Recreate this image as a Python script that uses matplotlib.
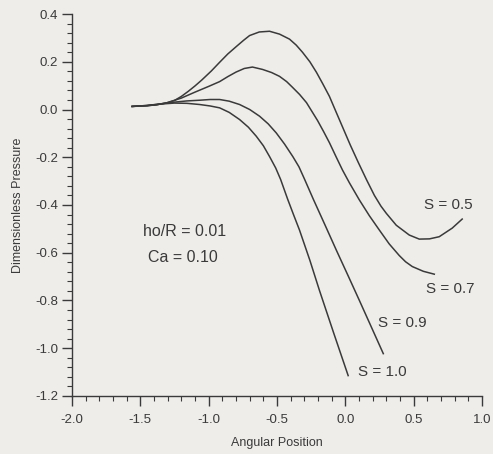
import matplotlib
matplotlib.use("Agg")
import matplotlib.pyplot as plt
from matplotlib.ticker import MultipleLocator

plt.rcParams['font.family'] = ['Liberation Sans', 'DejaVu Sans']

# curves (angular position, dimensionless pressure)
s05_x = [-1.56, -1.45, -1.38, -1.307, -1.25, -1.20, -1.15, -1.10, -1.05, -0.98, -0.92,
         -0.86, -0.796, -0.745, -0.701, -0.63, -0.555, -0.482, -0.409, -0.36, -0.314,
         -0.26, -0.212, -0.165, -0.117, -0.07, -0.022, 0.035, 0.095, 0.155, 0.212, 0.26,
         0.299, 0.372, 0.467, 0.54, 0.615, 0.686, 0.781, 0.854]
s05_y = [0.013, 0.016, 0.020, 0.028, 0.038, 0.055, 0.076, 0.099, 0.124, 0.162, 0.198,
         0.233, 0.265, 0.29, 0.31, 0.325, 0.328, 0.316, 0.295, 0.27, 0.240,
         0.20, 0.156, 0.107, 0.055, -0.008, -0.072, -0.148, -0.223, -0.295, -0.36, -0.405,
         -0.435, -0.485, -0.526, -0.543, -0.542, -0.533, -0.497, -0.459]

s07_x = [-1.56, -1.45, -1.38, -1.307, -1.20, -1.10, -1.00, -0.92, -0.86, -0.80, -0.74,
         -0.68, -0.606, -0.54, -0.482, -0.43, -0.387, -0.335, -0.285, -0.245, -0.204,
         -0.16, -0.117, -0.07, -0.022, 0.029, 0.102, 0.175, 0.248, 0.32, 0.394, 0.44,
         0.489, 0.57, 0.65]
s07_y = [0.013, 0.016, 0.020, 0.028, 0.048, 0.073, 0.097, 0.117, 0.138, 0.157, 0.172,
         0.178, 0.168, 0.155, 0.139, 0.117, 0.093, 0.063, 0.029, -0.008, -0.046,
         -0.092, -0.139, -0.196, -0.253, -0.307, -0.379, -0.445, -0.505, -0.563, -0.612, -0.638,
         -0.658, -0.678, -0.69]

s09_x = [-1.56, -1.45, -1.35, -1.25, -1.16, -1.066, -0.99, -0.92, -0.85, -0.774, -0.70,
         -0.628, -0.565, -0.506, -0.445, -0.385, -0.34, -0.299, -0.234, -0.15, -0.066,
         0.02, 0.102, 0.19, 0.277]
s09_y = [0.013, 0.017, 0.024, 0.031, 0.036, 0.039, 0.042, 0.042, 0.035, 0.021, 0.0,
         -0.028, -0.06, -0.098, -0.145, -0.197, -0.24, -0.292, -0.377, -0.483, -0.59,
         -0.697, -0.80, -0.912, -1.023]

s10_x = [-1.56, -1.45, -1.35, -1.25, -1.16, -1.066, -0.99, -0.92, -0.85, -0.774, -0.71,
         -0.652, -0.60, -0.555, -0.51, -0.474, -0.423, -0.38, -0.336, -0.26, -0.19,
         -0.085, 0.02]
s10_y = [0.013, 0.017, 0.023, 0.027, 0.026, 0.021, 0.015, 0.007, -0.012, -0.042, -0.074,
         -0.112, -0.152, -0.197, -0.245, -0.293, -0.375, -0.44, -0.505, -0.632, -0.758,
         -0.938, -1.115]

curve_labels = ['S = 0.5', 'S = 0.7', 'S = 0.9', 'S = 1.0']
label_pos = [(0.752, -0.40), (0.766, -0.75), (0.416, -0.895), (0.27, -1.10)]

bg = '#efedea'
ink = '#3a3a3a'

fig = plt.figure(figsize=(4.93, 4.54), dpi=100, facecolor=bg)
ax = fig.add_axes([0.146, 0.128, 0.832, 0.841], facecolor=bg)

for xs, ys in [(s05_x, s05_y), (s07_x, s07_y), (s09_x, s09_y), (s10_x, s10_y)]:
    ax.plot(xs, ys, color=ink, linewidth=1.1, solid_joinstyle='round')

for txt, (lx, ly) in zip(curve_labels, label_pos):
    ax.text(lx, ly, txt, fontsize=11, color=ink, ha='center', va='center')

ax.text(-1.175, -0.512, 'ho/R = 0.01', fontsize=11.5, color=ink, ha='center', va='center')
ax.text(-1.19, -0.62, 'Ca = 0.10', fontsize=11.5, color=ink, ha='center', va='center')

ax.set_xlim(-2.0, 1.0)
ax.set_ylim(-1.2, 0.4)
ax.xaxis.set_major_locator(MultipleLocator(0.5))
ax.xaxis.set_minor_locator(MultipleLocator(0.1))
ax.yaxis.set_major_locator(MultipleLocator(0.2))
ax.yaxis.set_minor_locator(MultipleLocator(0.04))
ax.set_xticklabels([f'{v:.1f}' for v in ax.get_xticks()])
ax.set_yticklabels([f'{v:.1f}' for v in ax.get_yticks()])

ax.tick_params(which='major', direction='out', length=7, width=1, colors=ink, labelsize=9.5)
ax.tick_params(axis='y', which='major', pad=3)
ax.tick_params(axis='x', which='major', pad=6)
ax.tick_params(which='minor', direction='out', length=3.5, width=0.8, colors=ink)
for side in ['top', 'right']:
    ax.spines[side].set_visible(False)
for side in ['left', 'bottom']:
    ax.spines[side].set_color(ink)
    ax.spines[side].set_linewidth(1.0)

ax.set_xlabel('Angular Position', fontsize=9, color=ink, labelpad=8)
ax.set_ylabel('Dimensionless Pressure', fontsize=9, color=ink, labelpad=8)

fig.savefig('out.png', dpi=100, facecolor=bg)
